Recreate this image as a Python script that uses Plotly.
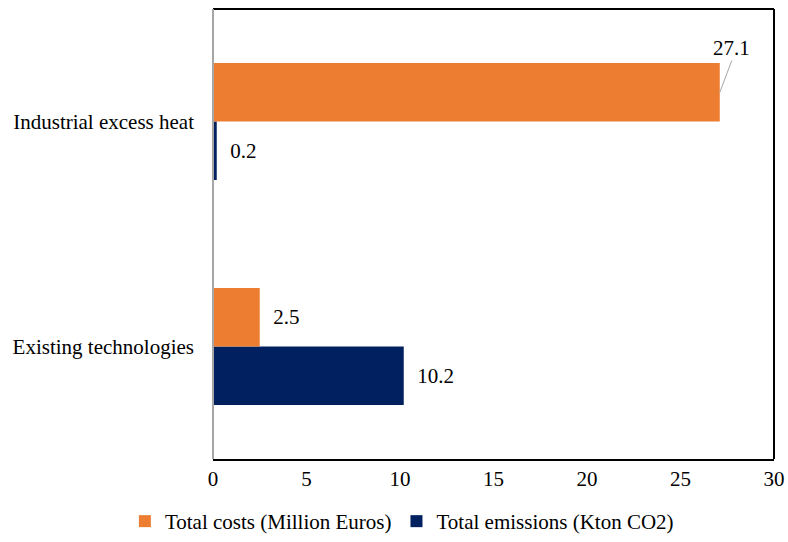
import plotly.graph_objects as go

categories = ["Existing technologies", "Industrial excess heat"]
total_costs = [2.5, 27.1]
total_emissions = [10.2, 0.2]
series_names = ["Total costs (Million Euros)", "Total emissions (Kton CO2)"]
x_ticks = [0, 5, 10, 15, 20, 25, 30]

ORANGE = "#ED7D31"
NAVY = "#002060"
FONT = "Liberation Serif"
FS = 21

fig = go.Figure()
fig.add_trace(go.Bar(
    y=categories, x=total_emissions, orientation="h", name=series_names[1],
    marker=dict(color=NAVY, line=dict(width=0)),
    text=[f"{v:.1f}" for v in total_emissions], textposition="outside",
    texttemplate="  %{text}", textfont=dict(family=FONT, size=FS, color="#000"),
    cliponaxis=False,
))
cost_text = [f"{v:.1f}" if v < 20 else "" for v in total_costs]
fig.add_trace(go.Bar(
    y=categories, x=total_costs, orientation="h", name=series_names[0],
    marker=dict(color=ORANGE, line=dict(width=0)),
    text=cost_text, textposition="outside",
    texttemplate="  %{text}", textfont=dict(family=FONT, size=FS, color="#000"),
    cliponaxis=False,
))

# leader-line label for the long bar
for c, v in zip(categories, total_costs):
    if v >= 20:
        fig.add_annotation(
            x=v, y=c, yshift=29, text=f"{v:.1f}", showarrow=True,
            arrowhead=0, arrowwidth=1, arrowcolor="#A6A6A6",
            ax=12, ay=-32, xanchor="center", yanchor="bottom",
            font=dict(family=FONT, size=FS, color="#000"),
            standoff=0, borderpad=0,
        )

fig.update_layout(
    width=788, height=542,
    margin=dict(l=213, r=14, t=9, b=83, autoexpand=False),
    paper_bgcolor="white", plot_bgcolor="white",
    barmode="group", bargap=0.48, bargroupgap=0,
    font=dict(family=FONT, size=FS, color="#000"),
    showlegend=True,
    legend=dict(orientation="h", xref="container", yref="container",
                x=0.51, xanchor="center", y=0.0, yanchor="bottom",
                traceorder="reversed", font=dict(family=FONT, size=FS, color="#000"),
                itemwidth=30),
    xaxis=dict(range=[0, 30], tickvals=x_ticks, showgrid=False, zeroline=False,
               showline=True, linecolor="black", linewidth=2, ticks="", automargin=False,
               ticklabelstandoff=0, tickfont=dict(family=FONT, size=FS, color="#000")),
    yaxis=dict(showgrid=False, zeroline=False, showline=False, ticks="", automargin=False,
               ticklabelstandoff=18, tickfont=dict(family=FONT, size=FS, color="#000")),
    shapes=[
        dict(type="line", xref="paper", yref="paper", x0=0, x1=1, y0=1, y1=1,
             line=dict(color="black", width=2)),
        dict(type="line", xref="paper", yref="paper", x0=1, x1=1, y0=0, y1=1,
             line=dict(color="black", width=2)),
        dict(type="line", xref="paper", yref="paper", x0=0, x1=0, y0=0, y1=1,
             line=dict(color="#A6A6A6", width=2)),
    ],
)

fig.write_html(
    "out.html",
    config={"displayModeBar": False},
    post_script="document.body.style.margin='0';document.body.style.overflow='hidden';",
)
